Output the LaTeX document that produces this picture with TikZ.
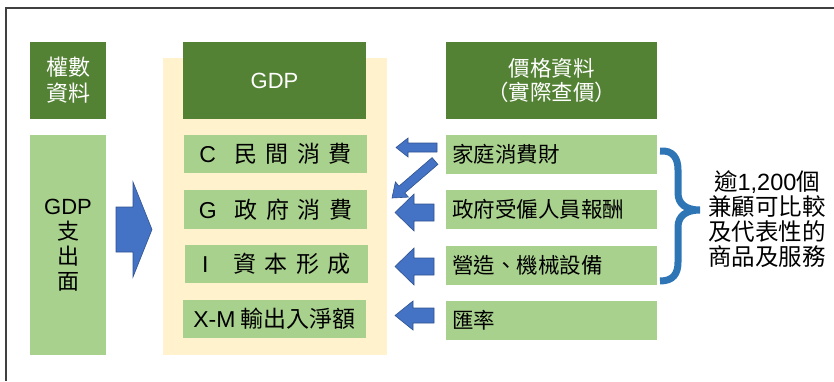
\documentclass[tikz,border=0pt]{standalone}
\usepackage{fontspec}
\setmainfont{Noto Sans CJK TC}
\newfontfamily\lat{Liberation Sans}
\definecolor{dgreen}{HTML}{548235}
\definecolor{lgreen}{HTML}{A9D18E}
\definecolor{ybg}{HTML}{FFF2CC}
\definecolor{ablue}{HTML}{4472C4}
\definecolor{aedge}{HTML}{2F528F}
\definecolor{bblue}{HTML}{2E75B6}
\definecolor{framec}{HTML}{404040}
\tikzset{
  darkbox/.style={fill=dgreen, draw=none, text=white, align=center, inner sep=0pt},
  lightbox/.style={fill=lgreen, draw=none, text=black, inner sep=0pt},
  blockarrow/.style={fill=ablue, draw=aedge, line width=0.6pt, line join=miter},
}
\begin{document}
\begin{tikzpicture}[x=1pt,y=-1pt]
\useasboundingbox (0,0) rectangle (834,381);
\draw[framec, line width=1.3pt] (6,381) -- (6,8) -- (834,8);

% left column
\node[darkbox, minimum width=76pt, minimum height=77pt, font=\fontsize{22}{26}\selectfont] (wt) at (68,80.5) {權數\\資料};
\node[lightbox, minimum width=76pt, minimum height=220pt, align=center, font=\fontsize{22}{25}\selectfont] (gexp) at (68,245) {{\lat GDP}\\支\\出\\面};

% big arrow
\draw[blockarrow] (116,207) -- (133,207) -- (133,182) -- (152,229.5) -- (133,277) -- (133,252) -- (116,252) -- cycle;

% yellow background
\node[fill=ybg, draw=none, minimum width=224pt, minimum height=297pt, inner sep=0pt] (bg) at (275,206.5) {};

% GDP column
\node[darkbox, minimum width=183pt, minimum height=77pt, font=\fontsize{22}{26}\selectfont\lat] (gdph) at (274.5,80.5) {GDP};
\begin{scope}[every node/.style={lightbox, minimum width=183pt, minimum height=38.5pt, font=\fontsize{23}{26}\selectfont}]
\node (c) at (275.5,154) {{\lat C}\hspace{18pt}民\hspace{8.5pt}間\hspace{8.5pt}消\hspace{8.5pt}費};
\node (g) at (275.5,209.5) {{\lat G}\hspace{18pt}政\hspace{8.5pt}府\hspace{8.5pt}消\hspace{8.5pt}費};
\node (i) at (276.5,264) {{\lat I}\hspace{25pt}資\hspace{8.5pt}本\hspace{8.5pt}形\hspace{8.5pt}成};
\node (xm) at (274.5,319) {{\lat X-M} 輸出入淨額};
\end{scope}

% price column
\node[darkbox, minimum width=211pt, minimum height=77pt, font=\fontsize{21.5}{24}\selectfont] (ph) at (551.5,80.5) {價格資料\\（實際查價）};
\begin{scope}[every node/.style={lightbox, anchor=west, text width=199pt, inner xsep=6pt, minimum height=39pt, align=left, font=\fontsize{21.5}{24}\selectfont}]
\node (p1) at (446,154.5) {家庭消費財};
\node (p2) at (446,209.5) {政府受僱人員報酬};
\node (p3) at (446,265) {營造、機械設備};
\node (p4) at (446,320.5) {匯率};
\end{scope}

% arrows
\draw[blockarrow] (437,143) -- (408,143) -- (408,138) -- (396,147.5) -- (408,157) -- (408,152) -- (437,152) -- cycle;
\draw[blockarrow] (437.9,164.4) -- (404.8,192.9) -- (408.4,197.1) -- (392,198) -- (395.4,181.9) -- (399.0,186.1) -- (432.1,157.6) -- cycle;
\draw[blockarrow] (434,204) -- (414,204) -- (414,194) -- (395,212.5) -- (414,231) -- (414,221) -- (434,221) -- cycle;
\draw[blockarrow] (434,258) -- (414,258) -- (414,248) -- (395,266.5) -- (414,285) -- (414,275) -- (434,275) -- cycle;
\draw[blockarrow] (434,308) -- (413,308) -- (413,301) -- (395,315.5) -- (413,330) -- (413,323) -- (434,323) -- cycle;

% brace
\draw[bblue, line width=7pt, line cap=butt] (660,151) .. controls (673,150) and (678,158) .. (678,170) -- (678,193) .. controls (678,204) and (686,210) .. (700,210) .. controls (686,210) and (678,216) .. (678,227) -- (678,262) .. controls (678,274) and (673,281) .. (660,281);

\node[align=center, inner sep=0pt, font=\fontsize{23.5}{25}\selectfont] (note) at (767,219.5) {逾{\lat 1,200}個\\兼顧可比較\\及代表性的\\商品及服務};
\end{tikzpicture}
\end{document}
